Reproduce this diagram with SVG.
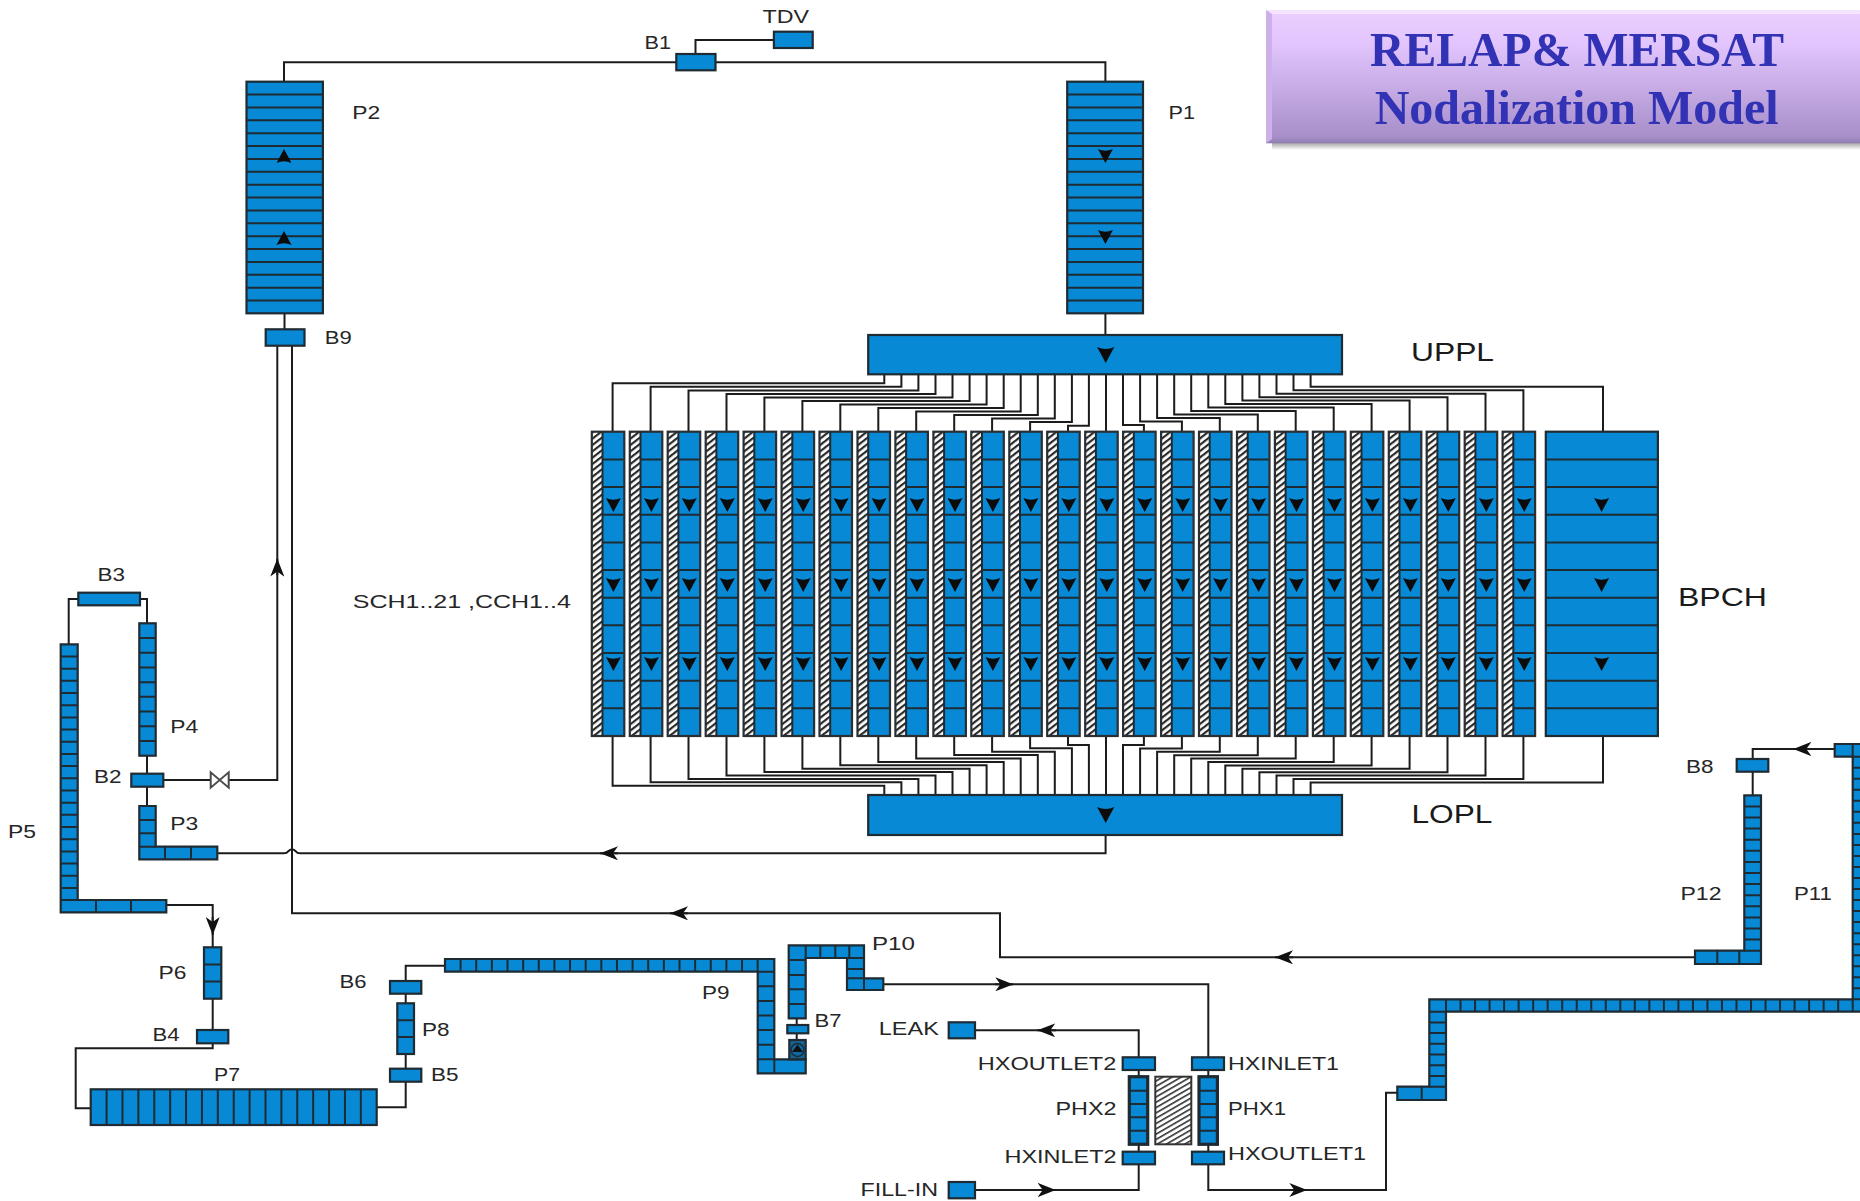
<svg xmlns="http://www.w3.org/2000/svg" width="1860" height="1201" viewBox="0 0 1860 1201">
<style>
.p{fill:#0789d5;stroke:#1f2b33;stroke-width:2.2;stroke-linejoin:miter}
.d{fill:none;stroke:#1f2b33;stroke-width:2}
.c{fill:none;stroke:#1c1c1c;stroke-width:2;stroke-linejoin:miter}
.a{marker-end:url(#arr)}
text{font-family:"Liberation Sans",Arial,sans-serif;font-size:18.5px;fill:#262626}
.big{font-size:25px;fill:#1a1a1a}
.title{font-family:"Liberation Serif","Times New Roman",serif;font-size:49px;font-weight:bold;fill:#3232b4}
</style>
<defs>
<pattern id="hatch" patternUnits="userSpaceOnUse" width="5" height="5" patternTransform="rotate(-38)"><rect width="5" height="5" fill="#fff"/><rect width="5" height="2.2" fill="#2a2a2a"/></pattern>
<pattern id="hatch2" patternUnits="userSpaceOnUse" width="4.6" height="4.6" patternTransform="rotate(-30)"><rect width="4.6" height="4.6" fill="#fff"/><rect width="4.6" height="1.6" fill="#333"/></pattern>
<linearGradient id="tg" x1="0" y1="0" x2="0" y2="1"><stop offset="0" stop-color="#ebcfff"/><stop offset=".25" stop-color="#e2c5fd"/><stop offset=".95" stop-color="#a88fca"/><stop offset="1" stop-color="#8f7db0"/></linearGradient>
<linearGradient id="ts" x1="0" y1="0" x2="0" y2="1"><stop offset="0" stop-color="#777" stop-opacity=".65"/><stop offset="1" stop-color="#777" stop-opacity="0"/></linearGradient>
<marker id="arr" markerUnits="userSpaceOnUse" markerWidth="18" markerHeight="14" refX="18" refY="7" orient="auto" viewBox="0 0 18 14"><path d="M0 0L18 7L0 14L5 7Z" fill="#111"/></marker>
<path id="tri" d="M-7.5 -7Q0 -3.5 7.5 -7L0 7Z" fill="#0b0b0b"/>
<g id="channel">
<rect x="0" y="431.7" width="10.7" height="304.3" fill="url(#hatch)"/>
<rect x="10.7" y="431.7" width="21.8" height="304.3" fill="#0789d5"/>
<line class="d" x1="21.6" y1="458.4" x2="21.6" y2="709.3" style="stroke-width:21.8;stroke-dasharray:2 25.66"/>
<rect x="0" y="431.7" width="32.5" height="304.3" fill="none" stroke="#2a2f33" stroke-width="2.2"/>
<line class="d" x1="10.7" y1="431.7" x2="10.7" y2="736"/>
<use href="#tri" x="21.6" y="505"/><use href="#tri" x="21.6" y="585"/><use href="#tri" x="21.6" y="664"/>
</g>
</defs>
<rect width="1860" height="1201" fill="#fff"/>

<g id="connectors">
<path class="c" d="M676.3 62.3H284V81.7"/>
<path class="c" d="M715.5 62.3H1105.4V81.7"/>
<path class="c" d="M773.9 40H695.5V54"/>
<path class="c" d="M1105.4 313.3V335"/>
<path class="c" d="M284.5 313.3V329.3"/>
<path class="c" d="M277.3 345.7V780H228.7"/>
<path class="c" d="M210.7 780H163.3"/>
<path class="c" d="M292 345.7V913.3H1000V957.3H1695"/>
<path class="c" d="M217.3 853.3H284Q287 853.3 288 851.5Q292 847 296 851.5Q297 853.3 300 853.3H1105.6V835"/>
<path class="c" d="M78.3 599H68.7V644.3"/>
<path class="c" d="M140 599H147V623.3"/>
<path class="c" d="M147 755.7V773.7"/>
<path class="c" d="M147 786.7V806"/>
<path class="c" d="M166.3 905H212.7V947.3"/>
<path class="c" d="M212.7 998.7V1030"/>
<path class="c" d="M212.7 1043.3V1048.3H75.7V1108.3H90.7"/>
<path class="c" d="M376.7 1107.3H405.7V1081.7"/>
<path class="c" d="M405.7 1068.7V1054"/>
<path class="c" d="M405.7 1003.3V993.7"/>
<path class="c" d="M405.7 981V965.7H445"/>
<path class="c" d="M796.7 1018.3V1025"/>
<path class="c" d="M796.7 1033.3V1040"/>
<path class="c" d="M883.3 984.3H1208.3V1057.3"/>
<path class="c" d="M1208.3 1070V1076.7"/>
<path class="c" d="M1208.3 1144.3V1151.7"/>
<path class="c" d="M1208.3 1164.3V1190H1386V1092.7H1397.3"/>
<path class="c" d="M975 1190H1138.7V1164.3"/>
<path class="c" d="M1138.7 1151.7V1144.3"/>
<path class="c" d="M1138.7 1076.7V1070"/>
<path class="c" d="M1138.7 1057.3V1030.3H975"/>
<path class="c" d="M1834.7 749H1752.7V759"/>
<path class="c" d="M1752.7 771.7V795.3"/>
<path class="c a" d="M277.3 575V558.6"/>
<path class="c a" d="M212.7 917V935"/>
<path class="c a" d="M618 853.3H600"/>
<path class="c a" d="M688 913.3H670"/>
<path class="c a" d="M1293 957.3H1275"/>
<path class="c a" d="M995 984.3H1013.3"/>
<path class="c a" d="M1056 1030.3H1037.3"/>
<path class="c a" d="M1037 1190H1055.7"/>
<path class="c a" d="M1290 1190H1307.3"/>
<path class="c a" d="M1811 749H1793.3"/>
<!-- upper plenum to channels -->
<path class="c" d="M884.3 374V383.3H612.6V431.7"/>
<path class="c" d="M901.4 374V386.8H650.6V431.7"/>
<path class="c" d="M918.4 374V390.4H688.5V431.7"/>
<path class="c" d="M935.5 374V393.9H726.5V431.7"/>
<path class="c" d="M952.5 374V397.4H764.4V431.7"/>
<path class="c" d="M969.6 374V401H802.4V431.7"/>
<path class="c" d="M986.6 374V404.5H840.3V431.7"/>
<path class="c" d="M1003.7 374V408H878.3V431.7"/>
<path class="c" d="M1020.7 374V411.5H916.2V431.7"/>
<path class="c" d="M1037.8 374V415.1H954.2V431.7"/>
<path class="c" d="M1054.8 374V418.6H992.1V431.7"/>
<path class="c" d="M1071.9 374V422.1H1030.1V431.7"/>
<path class="c" d="M1088.9 374V425.7H1068V431.7"/>
<path class="c" d="M1106 374V431.7"/>
<path class="c" d="M1123 374V425H1143.9V431.7"/>
<path class="c" d="M1140.1 374V421.5H1181.9V431.7"/>
<path class="c" d="M1157.1 374V418H1219.8V431.7"/>
<path class="c" d="M1174.2 374V414.6H1257.8V431.7"/>
<path class="c" d="M1191.2 374V411.1H1295.7V431.7"/>
<path class="c" d="M1208.3 374V407.6H1333.7V431.7"/>
<path class="c" d="M1225.3 374V404.1H1371.6V431.7"/>
<path class="c" d="M1242.4 374V400.6H1409.6V431.7"/>
<path class="c" d="M1259.4 374V397.2H1447.5V431.7"/>
<path class="c" d="M1276.5 374V393.7H1485.5V431.7"/>
<path class="c" d="M1293.5 374V390.2H1523.4V431.7"/>
<path class="c" d="M1310.6 374V386.7H1603V431.7"/>
<!-- channels to lower plenum -->
<path class="c" d="M884.3 795V785.7H612.6V736"/>
<path class="c" d="M901.4 795V782.3H650.6V736"/>
<path class="c" d="M918.4 795V778.9H688.5V736"/>
<path class="c" d="M935.5 795V775.5H726.5V736"/>
<path class="c" d="M952.5 795V772.1H764.4V736"/>
<path class="c" d="M969.6 795V768.7H802.4V736"/>
<path class="c" d="M986.6 795V765.3H840.3V736"/>
<path class="c" d="M1003.7 795V761.9H878.3V736"/>
<path class="c" d="M1020.7 795V758.5H916.2V736"/>
<path class="c" d="M1037.8 795V755.1H954.2V736"/>
<path class="c" d="M1054.8 795V751.7H992.1V736"/>
<path class="c" d="M1071.9 795V748.3H1030.1V736"/>
<path class="c" d="M1088.9 795V744.9H1068V736"/>
<path class="c" d="M1106 795V736"/>
<path class="c" d="M1123 795V745H1143.9V736"/>
<path class="c" d="M1140.1 795V748.4H1181.9V736"/>
<path class="c" d="M1157.1 795V751.8H1219.8V736"/>
<path class="c" d="M1174.2 795V755.2H1257.8V736"/>
<path class="c" d="M1191.2 795V758.6H1295.7V736"/>
<path class="c" d="M1208.3 795V762H1333.7V736"/>
<path class="c" d="M1225.3 795V765.4H1371.6V736"/>
<path class="c" d="M1242.4 795V768.8H1409.6V736"/>
<path class="c" d="M1259.4 795V772.2H1447.5V736"/>
<path class="c" d="M1276.5 795V775.6H1485.5V736"/>
<path class="c" d="M1293.5 795V779H1523.4V736"/>
<path class="c" d="M1310.6 795V782.4H1603V736"/>
</g>

<g id="title">
<rect x="1272" y="143" width="588" height="7" fill="url(#ts)"/>
<rect x="1266" y="10" width="594" height="133.3" fill="url(#tg)"/>
<path d="M1266 10H1860V14H1272Z" fill="#f4e4ff"/>
<path d="M1266 10L1272 14V139L1266 143.3Z" fill="#cdb0ea"/>
<text class="title" x="1370" y="65.7" textLength="414" lengthAdjust="spacingAndGlyphs">RELAP&amp; MERSAT</text>
<text class="title" x="1374.7" y="124" textLength="404" lengthAdjust="spacingAndGlyphs">Nodalization Model</text>
</g>

<g id="TDV"><rect class="p" x="773.9" y="31.7" width="38.8" height="16.3"/><text x="762.5" y="23.3" textLength="46.5" lengthAdjust="spacingAndGlyphs">TDV</text></g>
<g id="B1"><rect class="p" x="676.3" y="54" width="39.2" height="16.3"/><text x="644.5" y="48.7" textLength="26.5" lengthAdjust="spacingAndGlyphs">B1</text></g>
<g id="P1"><rect class="p" x="1067.2" y="81.7" width="75.8" height="231.6"/><line class="d" x1="1105.1" y1="93.6" x2="1105.1" y2="301.4" style="stroke-width:75.8;stroke-dasharray:2 10.87"/><use href="#tri" x="1105.4" y="156"/><use href="#tri" x="1105.4" y="237"/><text x="1168.5" y="119.3" textLength="26.5" lengthAdjust="spacingAndGlyphs">P1</text></g>
<g id="P2"><rect class="p" x="246.5" y="81.7" width="76.4" height="231.6"/><line class="d" x1="284.7" y1="93.6" x2="284.7" y2="301.4" style="stroke-width:76.4;stroke-dasharray:2 10.87"/><use href="#tri" transform="translate(284 156) rotate(180)"/><use href="#tri" transform="translate(284 238) rotate(180)"/><text x="352.3" y="119.3" textLength="28" lengthAdjust="spacingAndGlyphs">P2</text></g>
<g id="B9"><rect class="p" x="265.7" y="329.3" width="38.8" height="16.4"/><text x="324.8" y="344" textLength="27" lengthAdjust="spacingAndGlyphs">B9</text></g>
<g id="UPPL"><rect class="p" x="868.2" y="335" width="473.8" height="39.3"/><use href="#tri" transform="translate(1105.7 355) scale(1.15)"/><text class="big" x="1411" y="361" textLength="83" lengthAdjust="spacingAndGlyphs">UPPL</text></g>
<g id="LOPL"><rect class="p" x="868.2" y="795" width="473.8" height="40"/><use href="#tri" transform="translate(1105.7 815) scale(1.15)"/><text class="big" x="1411.5" y="822.7" textLength="81" lengthAdjust="spacingAndGlyphs">LOPL</text></g>

<g id="CH1"><use href="#channel" x="591.8"/></g>
<g id="CH2"><use href="#channel" x="629.8"/></g>
<g id="CH3"><use href="#channel" x="667.7"/></g>
<g id="CH4"><use href="#channel" x="705.7"/></g>
<g id="CH5"><use href="#channel" x="743.6"/></g>
<g id="CH6"><use href="#channel" x="781.6"/></g>
<g id="CH7"><use href="#channel" x="819.5"/></g>
<g id="CH8"><use href="#channel" x="857.5"/></g>
<g id="CH9"><use href="#channel" x="895.4"/></g>
<g id="CH10"><use href="#channel" x="933.4"/></g>
<g id="CH11"><use href="#channel" x="971.3"/></g>
<g id="CH12"><use href="#channel" x="1009.3"/></g>
<g id="CH13"><use href="#channel" x="1047.2"/></g>
<g id="CH14"><use href="#channel" x="1085.2"/></g>
<g id="CH15"><use href="#channel" x="1123.1"/></g>
<g id="CH16"><use href="#channel" x="1161.1"/></g>
<g id="CH17"><use href="#channel" x="1199"/></g>
<g id="CH18"><use href="#channel" x="1237"/></g>
<g id="CH19"><use href="#channel" x="1274.9"/></g>
<g id="CH20"><use href="#channel" x="1312.9"/></g>
<g id="CH21"><use href="#channel" x="1350.8"/></g>
<g id="CH22"><use href="#channel" x="1388.8"/></g>
<g id="CH23"><use href="#channel" x="1426.7"/></g>
<g id="CH24"><use href="#channel" x="1464.7"/></g>
<g id="CH25"><use href="#channel" x="1502.6"/></g>
<g id="SCH-label"><text x="352.8" y="608" textLength="218" lengthAdjust="spacingAndGlyphs">SCH1..21 ,CCH1..4</text></g>

<g id="BPCH"><rect class="p" x="1545.8" y="431.7" width="112.1" height="304.3"/><line class="d" x1="1601.85" y1="458.4" x2="1601.85" y2="709.3" style="stroke-width:112.1;stroke-dasharray:2 25.66"/><use href="#tri" x="1601.6" y="505"/><use href="#tri" x="1601.6" y="585"/><use href="#tri" x="1601.6" y="664"/><text class="big" x="1678" y="606" textLength="89" lengthAdjust="spacingAndGlyphs">BPCH</text></g>

<g id="B3"><rect class="p" x="78.3" y="592.7" width="61.7" height="12.6"/><text x="97.5" y="580.5" textLength="27.5" lengthAdjust="spacingAndGlyphs">B3</text></g>
<g id="P4"><rect class="p" x="139.3" y="623.3" width="16.4" height="132.4"/><line class="d" x1="147.5" y1="637" x2="147.5" y2="742" style="stroke-width:16.4;stroke-dasharray:2 12.71"/><text x="170.3" y="733.3" textLength="28" lengthAdjust="spacingAndGlyphs">P4</text></g>
<g id="B2"><rect class="p" x="131.3" y="773.7" width="32" height="13"/><text x="94" y="783" textLength="27.5" lengthAdjust="spacingAndGlyphs">B2</text></g>
<g id="valve"><path d="M210.7 772.3V787.7L228.7 772.3V787.7Z" fill="#fff" stroke="#4a4a4a" stroke-width="2"/></g>
<g id="P3"><path class="p" d="M139.3 806H155.7V846.7H217.3V859.3H139.3Z"/><path class="d" d="M139.3 820H155.7M139.3 833.3H155.7M139.3 846.7H155.7M165 846.7V859.3M191 846.7V859.3"/><text x="170.3" y="830" textLength="28" lengthAdjust="spacingAndGlyphs">P3</text></g>
<g id="P5"><path class="p" d="M60.7 644.3H77.7V900H166.3V912.3H60.7Z"/><line class="d" x1="69.2" y1="655.5" x2="69.2" y2="901" style="stroke-width:17;stroke-dasharray:2 10.18"/><path class="d" d="M96 900V912.3M131 900V912.3"/><text x="8" y="837.7" textLength="28" lengthAdjust="spacingAndGlyphs">P5</text></g>
<g id="P6"><rect class="p" x="204" y="947.3" width="17.3" height="51.4"/><path class="d" d="M204 964.4H221.3M204 981.6H221.3"/><text x="158.5" y="979.3" textLength="28" lengthAdjust="spacingAndGlyphs">P6</text></g>
<g id="B4"><rect class="p" x="197" y="1030" width="31.3" height="13.3"/><text x="152.5" y="1041" textLength="27" lengthAdjust="spacingAndGlyphs">B4</text></g>
<g id="P7"><rect class="p" x="90.7" y="1089.3" width="286" height="35.7"/><line class="d" x1="105.6" y1="1107.15" x2="361.8" y2="1107.15" style="stroke-width:35.7;stroke-dasharray:2 13.89"/><text x="214" y="1081" textLength="26" lengthAdjust="spacingAndGlyphs">P7</text></g>
<g id="B5"><rect class="p" x="390" y="1068.7" width="31.3" height="13"/><text x="431" y="1080.5" textLength="27.5" lengthAdjust="spacingAndGlyphs">B5</text></g>
<g id="P8"><rect class="p" x="397.3" y="1003.3" width="16.7" height="50.7"/><path class="d" d="M397.3 1020.2H414M397.3 1037H414"/><text x="422" y="1035.7" textLength="27.5" lengthAdjust="spacingAndGlyphs">P8</text></g>
<g id="B6"><rect class="p" x="390" y="981" width="31.3" height="12.7"/><text x="339.5" y="988.3" textLength="27" lengthAdjust="spacingAndGlyphs">B6</text></g>
<g id="P9"><path class="p" d="M445 959H774.3V1059.3H805.7V1073.3H757.7V971.7H445Z"/><line class="d" x1="459.6" y1="965.35" x2="758.7" y2="965.35" style="stroke-width:12.7;stroke-dasharray:2 13.635"/><line class="d" x1="766" y1="970.7" x2="766" y2="1060.3" style="stroke-width:16.6;stroke-dasharray:2 12.6"/><path class="d" d="M774.3 1059.3V1073.3"/><text x="702" y="999" textLength="27.5" lengthAdjust="spacingAndGlyphs">P9</text></g>
<g id="pump"><rect x="789.3" y="1040" width="16.4" height="19.3" fill="#17628f" stroke="#1f2b33" stroke-width="2.2"/><circle cx="797.5" cy="1050" r="6.5" fill="#0a6ba6" stroke="#1f2b33" stroke-width="1.4"/><path d="M797.5 1044.5L803 1052H792Z" fill="#111"/></g>
<g id="B7"><rect class="p" x="787.3" y="1025" width="21" height="8.3"/><text x="814.5" y="1026.7" textLength="27" lengthAdjust="spacingAndGlyphs">B7</text></g>
<g id="P10"><path class="p" d="M788.7 945.3H864V978.3H883.3V990H847V958H805.7V1018.3H788.7Z"/><path class="d" d="M788.7 960H805.7M788.7 975H805.7M788.7 989.3H805.7M788.7 1004H805.7M805.7 945.3V958M820.3 945.3V958M835.3 945.3V958M849.3 945.3V958M847 958H864M847 969H864M847 978.3H864M864 978.3V990"/><text x="872" y="950" textLength="43" lengthAdjust="spacingAndGlyphs">P10</text></g>
<g id="LEAK"><rect class="p" x="948.7" y="1022.3" width="26.3" height="16"/><text x="878.8" y="1035" textLength="60" lengthAdjust="spacingAndGlyphs">LEAK</text></g>
<g id="FILL-IN"><rect class="p" x="948.7" y="1182" width="26.3" height="16.3"/><text x="860.5" y="1196" textLength="77.5" lengthAdjust="spacingAndGlyphs">FILL-IN</text></g>
<g id="HXOUTLET2"><rect class="p" x="1122.7" y="1057.3" width="32.3" height="12.7"/><text x="977.8" y="1070" textLength="138.5" lengthAdjust="spacingAndGlyphs">HXOUTLET2</text></g>
<g id="HXINLET1"><rect class="p" x="1192" y="1057.3" width="32" height="12.7"/><text x="1228" y="1070" textLength="111" lengthAdjust="spacingAndGlyphs">HXINLET1</text></g>
<g id="PHX2"><rect class="p" x="1129.3" y="1076.7" width="18.4" height="67.6" style="stroke-width:3.2"/><path class="d" d="M1129.3 1090.7H1147.7M1129.3 1104H1147.7M1129.3 1117.3H1147.7M1129.3 1130.7H1147.7"/><text x="1055.5" y="1115" textLength="61" lengthAdjust="spacingAndGlyphs">PHX2</text></g>
<g id="heat-exchanger-wall"><rect x="1155.3" y="1076.7" width="36" height="67.6" fill="url(#hatch2)" stroke="#333" stroke-width="2"/></g>
<g id="PHX1"><rect class="p" x="1199" y="1076.7" width="18.4" height="67.6" style="stroke-width:3.2"/><path class="d" d="M1199 1090.7H1217.4M1199 1104H1217.4M1199 1117.3H1217.4M1199 1130.7H1217.4"/><text x="1228" y="1115" textLength="58" lengthAdjust="spacingAndGlyphs">PHX1</text></g>
<g id="HXINLET2"><rect class="p" x="1122.7" y="1151.7" width="32.3" height="12.6"/><text x="1004.5" y="1162.7" textLength="112" lengthAdjust="spacingAndGlyphs">HXINLET2</text></g>
<g id="HXOUTLET1"><rect class="p" x="1192" y="1151.7" width="32" height="12.6"/><text x="1228" y="1160" textLength="138" lengthAdjust="spacingAndGlyphs">HXOUTLET1</text></g>
<g id="P11"><path class="p" d="M1860 744H1834.7V756.7H1852.7V999.3H1429.3V1086.7H1397.3V1100H1446V1011.7H1860"/><path d="M1852.7 744V756.7H1860M1421.7 1086.7V1100" class="d"/><line class="d" x1="1856.35" y1="766.7" x2="1856.35" y2="1000.3" style="stroke-width:7.3;stroke-dasharray:2 9.03"/><line class="d" x1="1445" y1="1005.5" x2="1853.7" y2="1005.5" style="stroke-width:12.4;stroke-dasharray:2 12.525"/><line class="d" x1="1437.65" y1="1010.7" x2="1437.65" y2="1087.7" style="stroke-width:16.7;stroke-dasharray:2 8.71"/><text x="1794" y="900" textLength="38" lengthAdjust="spacingAndGlyphs">P11</text></g>
<g id="B8"><rect class="p" x="1736.7" y="759" width="31.6" height="12.7"/><text x="1686" y="773.3" textLength="27.5" lengthAdjust="spacingAndGlyphs">B8</text></g>
<g id="P12"><path class="p" d="M1744.3 795.3H1761V964H1695V950.7H1744.3Z"/><line class="d" x1="1752.65" y1="805.4" x2="1752.65" y2="951.7" style="stroke-width:16.7;stroke-dasharray:2 9.1"/><path class="d" d="M1717.3 950.7V964M1739.3 950.7V964"/><text x="1680.5" y="900" textLength="41" lengthAdjust="spacingAndGlyphs">P12</text></g>
</svg>
